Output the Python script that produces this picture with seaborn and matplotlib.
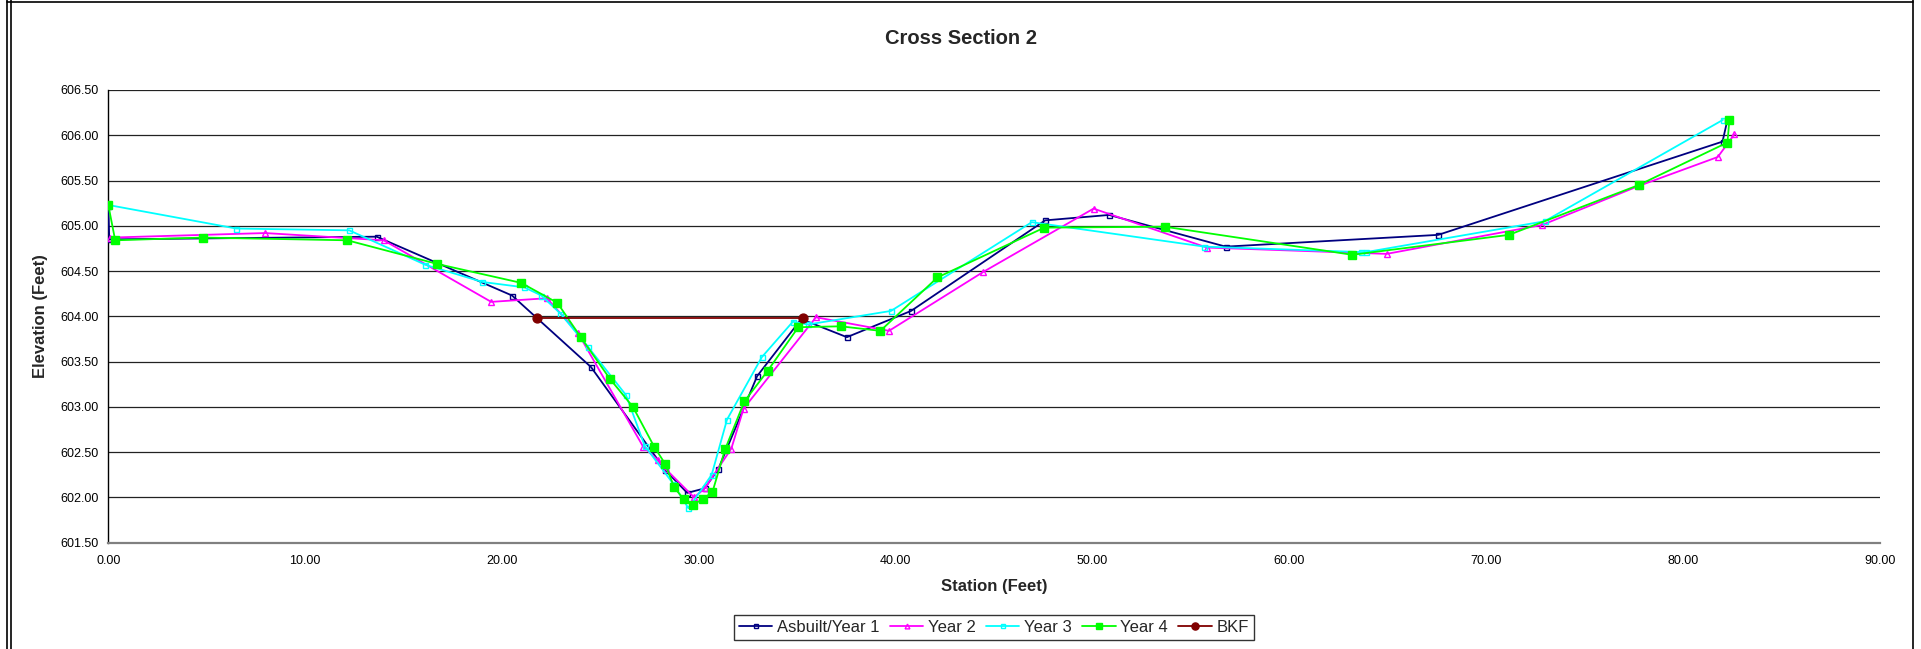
"""
Cross Section 2 - station vs elevation survey comparison.
"""

import pandas as pd
import numpy as np
import matplotlib
matplotlib.use('Agg')
import matplotlib.pyplot as plt
from matplotlib.lines import Line2D
from matplotlib.ticker import FormatStrFormatter, MultipleLocator
import seaborn as sns

# Survey data (station ft, elevation ft)
asbuilt_x = [0.0, 0.05, 13.63, 20.51, 24.52, 28.3, 29.41, 30.29, 30.98, 32.96, 35.2,
             37.52, 40.78, 47.59, 50.84, 56.76, 67.56, 82.0, 82.25]
asbuilt_y = [605.22, 604.85, 604.88, 604.23, 603.44, 602.30, 602.05, 602.10, 602.31, 603.34, 603.97,
             603.77, 604.06, 605.06, 605.12, 604.77, 604.90, 605.93, 606.17]

year2_x = [0.1, 7.97, 13.99, 19.45, 22.28, 23.85, 27.17, 27.93, 28.33, 29.76, 30.3, 31.65,
           32.27, 35.95, 39.66, 44.44, 50.05, 55.8, 64.94, 72.84, 77.74, 81.76, 82.6]
year2_y = [604.87, 604.92, 604.84, 604.16, 604.20, 603.82, 602.56, 602.41, 602.31, 602.00, 602.10, 602.54,
           602.98, 603.99, 603.84, 604.49, 605.19, 604.76, 604.69, 605.01, 605.44, 605.76, 606.01]

year3_x = [0.0, 6.5, 12.24, 16.1, 19.0, 21.14, 22.0, 22.97, 24.38, 26.3, 27.25, 28.7, 29.47,
           30.65, 31.43, 33.2, 34.77, 35.55, 39.76, 46.91, 55.68, 63.62, 63.9, 72.96, 82.02]
year3_y = [605.23, 604.97, 604.95, 604.57, 604.38, 604.32, 604.23, 604.03, 603.66, 603.13, 602.57, 602.15, 601.88,
           602.25, 602.86, 603.55, 603.94, 603.91, 604.06, 605.04, 604.77, 604.71, 604.71, 605.05, 606.17]

year4_x = [0.0, 0.35, 4.8, 12.14, 16.69, 20.97, 22.81, 24.0, 25.48, 26.65, 27.73, 28.29, 28.75,
           29.23, 29.7, 30.19, 30.69, 31.33, 32.31, 33.5, 35.05, 37.2, 39.22, 42.12, 47.55,
           53.67, 63.19, 71.15, 77.74, 82.25, 82.35]
year4_y = [605.23, 604.84, 604.87, 604.84, 604.58, 604.37, 604.15, 603.77, 603.31, 603.0, 602.56, 602.37, 602.11,
           601.98, 601.92, 601.98, 602.06, 602.53, 603.06, 603.40, 603.88, 603.89, 603.84, 604.43, 604.98,
           604.99, 604.68, 604.90, 605.45, 605.92, 606.17]

bkf_x = [21.78, 35.27]
bkf_y = [603.98, 603.98]

series = [
    # label, x, y, color, marker, size, filled
    ('Asbuilt/Year 1', asbuilt_x, asbuilt_y, '#000080', 's', 3.6, False),
    ('Year 2', year2_x, year2_y, '#FF00FF', '^', 4.3, False),
    ('Year 3', year3_x, year3_y, '#00FFFF', 's', 3.6, False),
    ('Year 4', year4_x, year4_y, '#00FF00', 's', 6.2, True),
    ('BKF', bkf_x, bkf_y, '#800000', 'o', 6.4, True),
]

sns.set_theme(style='white')
plt.rcParams['font.family'] = ['Liberation Sans', 'DejaVu Sans']

W, H = 1921, 649
fig = plt.figure(figsize=(W / 100, H / 100), dpi=100)
fig.patch.set_facecolor('white')

left, right, top, bottom = 108.3, 1880.0, 90.0, 542.7
ax = fig.add_axes([left / W, 1 - bottom / H, (right - left) / W, (bottom - top) / H])

for label, xs, ys, color, marker, size, filled in series:
    df = pd.DataFrame({'Station': xs, 'Elevation': ys})
    sns.lineplot(data=df, x='Station', y='Elevation', sort=False, estimator=None,
                 color=color, linewidth=1.3, marker=marker, markersize=size,
                 markerfacecolor=color if filled else 'none',
                 markeredgecolor=color, markeredgewidth=1.0,
                 label=label, ax=ax, zorder=3)

ax.set_xlim(0, 90)
ax.set_ylim(601.5, 606.5)
ax.xaxis.set_major_locator(MultipleLocator(10))
ax.yaxis.set_major_locator(MultipleLocator(0.5))
ax.xaxis.set_major_formatter(FormatStrFormatter('%.2f'))
ax.yaxis.set_major_formatter(FormatStrFormatter('%.2f'))

ax.yaxis.grid(True, color='#222222', linewidth=0.9)
ax.xaxis.grid(False)
for s in ['top', 'right']:
    ax.spines[s].set_visible(False)
ax.spines['left'].set_color('black')
ax.spines['left'].set_linewidth(1.0)
ax.spines['bottom'].set_color('#808080')
ax.spines['bottom'].set_linewidth(1.6)

ax.tick_params(axis='both', which='major', direction='out', length=3, width=1,
               color='black', labelsize=9, labelcolor='black')
ax.tick_params(axis='x', pad=6)
ax.tick_params(axis='y', pad=4)
ax.set_xlabel('')
ax.set_ylabel('')

fig.text(961 / W, 1 - 38 / H, 'Cross Section 2', ha='center', va='center',
         fontsize=14.5, fontweight='bold')
fig.text(994 / W, 1 - 587 / H, 'Station (Feet)', ha='center', va='center',
         fontsize=12, fontweight='bold')
fig.text(40 / W, 1 - 316 / H, 'Elevation (Feet)', ha='center', va='center',
         rotation=90, fontsize=12, fontweight='bold')

handles, labels = ax.get_legend_handles_labels()
ax.get_legend().remove()
leg = fig.legend(handles, labels, loc='center', bbox_to_anchor=(994 / W, 1 - 627 / H),
                 ncol=5, fontsize=12, frameon=True, fancybox=False, shadow=False,
                 handlelength=2.0, handletextpad=0.3, columnspacing=0.6,
                 borderpad=0.3, markerscale=0.8)
leg.get_frame().set_edgecolor('black')
leg.get_frame().set_linewidth(1.0)

# page border around the chart object
border = dict(color='black', linewidth=1.2, transform=fig.transFigure)
fig.add_artist(Line2D([7 / W, 7 / W], [0, 1], **border))
fig.add_artist(Line2D([10.5 / W, 10.5 / W], [0, 1], **border))
fig.add_artist(Line2D([1913 / W, 1913 / W], [0, 1], **border))
fig.add_artist(Line2D([7 / W, 1913 / W], [1 - 2 / H, 1 - 2 / H], **border))

fig.savefig('out.png', dpi=100, facecolor='white')
plt.close(fig)
